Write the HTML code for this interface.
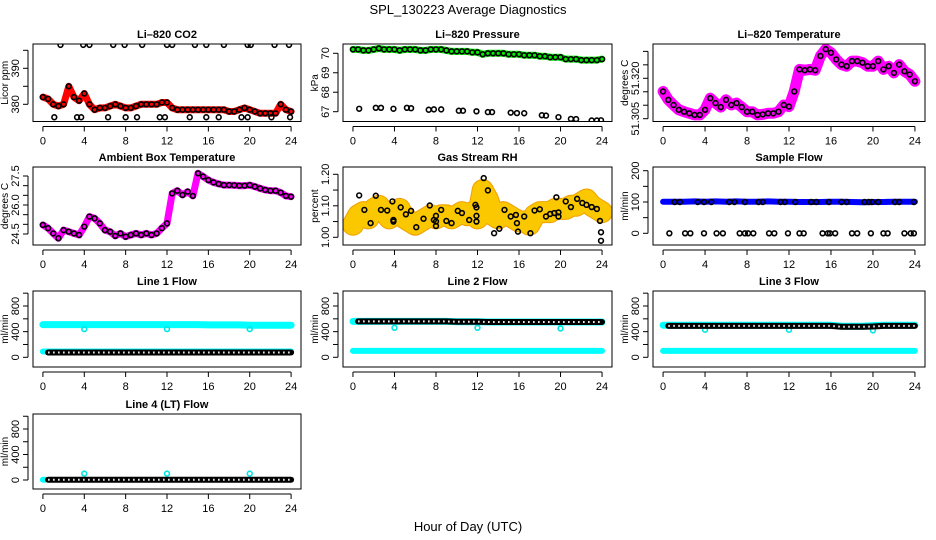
<!DOCTYPE html>
<html><head><meta charset="utf-8"><style>
html,body{margin:0;padding:0;background:#fff;}
svg{display:block;font-family:"Liberation Sans",sans-serif;}
</style></head><body>
<svg id="chart" width="936" height="540" viewBox="0 0 936 540" xmlns="http://www.w3.org/2000/svg">
<text x="468" y="14" text-anchor="middle" font-size="13">SPL_130223  Average Diagnostics</text>
<text x="468" y="531" text-anchor="middle" font-size="13">Hour of Day (UTC)</text>
</svg>
<script>
// ---------- data ----------
const halfHours = [0,0.5,1,1.5,2,2.5,3,3.5,4,4.5,5,5.5,6,6.5,7,7.5,8,8.5,9,9.5,10,10.5,11,11.5,12,12.5,13,13.5,14,14.5,15,15.5,16,16.5,17,17.5,18,18.5,19,19.5,20,20.5,21,21.5,22,22.5,23,23.5,24];
const hourly = [0,1,2,3,4,5,6,7,8,9,10,11,12,13,14,15,16,17,18,19,20,21,22,23,24];
const xTicks = [0,4,8,12,16,20,24];

const co2Red = [382,381.5,380,379.5,380,385,382,381,383,380,378.5,379,379,379.5,380,379.5,379,379,379.5,380,380,380,380,380.5,380.5,379,378.5,378.5,378.5,378.5,378.5,378.5,378.5,378.5,378.5,378.5,378,378,378.5,379,378.5,378,377.5,377.5,377.5,377.5,380,378.5,378];
const co2HighHours = [1.7,3.9,4.5,6.8,7.9,9.6,12,12.5,14.7,15.8,17.5,19.8,20.1,22.4,23.8];
const co2LowHours = [1.1,3.3,3.7,6.3,8,9.1,11.3,11.8,14.2,15.8,17,19.2,19.8,22.1,23.9];

const presGreen = [70.2,70.2,70.15,70.15,70.2,70.25,70.2,70.2,70.2,70.15,70.2,70.2,70.2,70.15,70.15,70.2,70.2,70.2,70.15,70.1,70.1,70.1,70.1,70.05,70.05,69.95,70.0,70.0,70.0,70.0,69.95,69.95,69.95,69.9,69.9,69.9,69.85,69.85,69.8,69.8,69.8,69.7,69.7,69.7,69.65,69.65,69.65,69.65,69.7];
const presLowHours = [0.6,2.2,2.7,3.9,5.2,5.6,7.3,7.8,8.5,10.2,10.6,11.9,13,13.4,15.2,15.8,16.5,18.2,18.6,19.8,21,21.5,23,23.5,23.9];
const presLowVals = [67.15,67.2,67.2,67.15,67.2,67.18,67.1,67.12,67.12,67.05,67.05,67.02,66.98,66.98,66.95,66.93,66.92,66.82,66.8,66.72,66.63,66.62,66.55,66.55,66.56];

const tempMag = [51.3151,51.312,51.3101,51.3083,51.3076,51.307,51.3064,51.3064,51.3083,51.3126,51.3108,51.3093,51.312,51.3101,51.3108,51.3093,51.3076,51.3076,51.3064,51.3066,51.307,51.307,51.3076,51.3101,51.3095,51.3151,51.3233,51.323,51.3233,51.323,51.3283,51.3308,51.3295,51.327,51.3251,51.3245,51.3264,51.3264,51.3258,51.3245,51.3245,51.3264,51.3233,51.3245,51.322,51.3251,51.3226,51.3214,51.3189];

const ambMag = [24.97,24.8,24.53,24.28,24.7,24.62,24.53,24.45,24.88,25.4,25.31,25.05,24.7,24.62,24.4,24.53,24.36,24.45,24.53,24.45,24.53,24.45,24.53,24.8,25.05,26.6,26.74,26.52,26.69,26.47,27.64,27.47,27.29,27.17,27.09,27.03,27.03,27.02,27.0,27.0,27.03,26.95,26.86,26.78,26.74,26.74,26.64,26.47,26.43];

const rhBand = [1.04,1.07,1.08,1.06,1.09,1.10,1.08,1.06,1.08,1.09,1.06,1.05,1.04,1.05,1.06,1.07,1.06,1.07,1.07,1.06,1.07,1.08,1.07,1.08,1.06,1.15,1.12,1.07,1.06,1.08,1.07,1.06,1.05,1.05,1.04,1.07,1.08,1.08,1.08,1.09,1.09,1.09,1.10,1.10,1.11,1.12,1.10,1.09,1.08];
const rhBlackHours = [0.6,1.1,1.7,2.2,2.7,3.3,3.8,3.9,3.9,4.6,5.1,5.6,6.1,6.8,7.4,7.8,8.0,8.0,8.0,8.5,9.0,9.5,10.1,10.5,11.2,11.8,11.9,11.9,11.9,12.6,13.0,13.6,14.1,14.6,15.2,15.7,15.8,15.9,16.5,17.1,17.5,18.0,18.6,19.0,19.4,19.6,19.8,19.8,20.5,21.0,21.6,22.1,22.5,23.0,23.5,23.8,23.9,23.9];
const rhBlackVals = [1.133,1.087,1.045,1.132,1.087,1.085,1.114,1.055,1.05,1.095,1.073,1.084,1.032,1.059,1.101,1.055,1.05,1.036,1.068,1.087,1.052,1.045,1.084,1.077,1.055,1.103,1.095,1.068,1.05,1.188,1.149,1.013,1.027,1.087,1.066,1.071,1.045,1.018,1.066,1.013,1.085,1.089,1.066,1.074,1.077,1.127,1.079,1.066,1.114,1.096,1.122,1.109,1.103,1.096,1.09,1.052,1.016,0.989];

const sampleBlue = [101,101,101,102,101,102,101,102,101,101,102,101,101,100,100,100,101,101,100,99,100,100,101,101,101];
const sampleZeroHours = [0.6,2.1,2.6,3.9,5.1,5.7,7.3,7.8,8.1,8.6,10.1,10.6,11.9,13.0,13.4,15.2,15.7,15.9,16.4,18.0,18.5,19.8,21.0,21.4,23.0,23.6,23.9];
const sampleHundredHours = [1.1,1.6,3.3,3.9,4.6,6.3,6.8,7.8,9.1,9.5,11.2,11.6,12.6,14.1,14.6,15.8,17.0,17.5,19.2,19.6,19.9,20.5,22.1,22.5,23.9];

const line1Black = [75,75,75,75,75,75,75,75,75,75,75,75,75,75,75,75,75,75,75,75,75,75,75,75,75];
const line1CyanHi = [510,510,510,510,510,510,510,510,510,510,510,510,510,510,510,510,505,505,505,505,500,500,500,500,500];
const line1CyanLo = [90,90,90,90,90,90,90,90,90,90,90,90,90,90,90,90,90,90,90,90,90,90,90,90,90];
const line1DipHours = [4,12,20];
const line1DipVals = [440,440,440];

const line2Black = [560,560,560,560,560,560,560,560,560,560,555,555,555,550,550,550,550,550,550,550,550,550,550,550,550];
const line2CyanHi = [560,560,560,560,560,560,560,560,560,560,555,555,555,550,550,550,550,550,550,550,550,550,550,550,550];
const line2CyanLo = [100,100,100,100,100,100,100,100,100,100,100,100,100,100,100,100,100,100,100,100,100,100,100,100,100];
const line2DipHours = [4,12,20];
const line2DipVals = [460,460,450];

const line3Black = [490,490,490,490,490,490,490,490,490,490,490,490,490,490,490,490,490,475,475,475,480,490,490,490,490];
const line3CyanHi = [500,500,500,500,500,500,500,500,500,500,500,500,500,500,500,500,500,485,485,485,495,500,500,500,500];
const line3CyanLo = [100,100,100,100,100,100,100,100,100,100,100,100,100,100,100,100,100,100,100,100,100,100,100,100,100];
const line3DipHours = [4,12,20];
const line3DipVals = [430,430,420];

const line4Black = [5,5,5,5,5,5,5,5,5,5,5,5,5,5,5,5,5,5,5,5,5,5,5,5,5];
const line4CyanHours = [0,0.2];
const line4CyanVals = [5,5];
const line4DipHours = [4,12,20];
const line4DipVals = [100,100,100];

// ---------- helpers ----------
const NS = "http://www.w3.org/2000/svg";
const svg = document.getElementById('chart');
function mk(tag, attrs, parent) {
  const el = document.createElementNS(NS, tag);
  for (const k in attrs) el.setAttribute(k, attrs[k]);
  (parent || svg).appendChild(el);
  return el;
}
function panel(name, title, box, yMap, yTicks, yLabels, yTitle) {
  const g = mk('g', {});
  
  
  const [L, T, R, B] = box;
  const W = R - L;
  const x = h => L + W * (0.037 + h / 24 * 0.926);
  const [v1, p1, v2, p2] = yMap;
  const y = v => p1 + (v - v1) * (p2 - p1) / (v2 - v1);
  const t = mk('text', {x: (L + R) / 2, y: T - 6, 'text-anchor': 'middle', 'font-size': 11, 'font-weight': 'bold'}, g);
  t.textContent = title;
  
  
  const clip = mk('clipPath', {id: 'clip-' + name}, g);
  mk('rect', {x: L, y: T, width: W, height: B - T}, clip);
  const plot = mk('g', {'clip-path': 'url(#clip-' + name + ')'}, g);
  
  
  const frame = mk('rect', {x: L, y: T, width: W, height: B - T, fill: 'none', stroke: '#000', 'stroke-width': 1}, g);
  
  
  const xa = mk('g', {}, g);
  
  
  mk('line', {x1: x(0), x2: x(24), y1: B + 5, y2: B + 5, stroke: '#000'}, xa);
  xTicks.forEach(h => {
    mk('line', {x1: x(h), x2: x(h), y1: B + 5, y2: B + 10, stroke: '#000'}, xa);
    const lb = mk('text', {x: x(h), y: B + 23, 'text-anchor': 'middle', 'font-size': 11}, xa);
    lb.textContent = h;
    
    
  });
  const ya = mk('g', {}, g);
  
  
  const ax = L - 5;
  mk('line', {x1: ax, x2: ax, y1: y(yTicks[0]), y2: y(yTicks[yTicks.length - 1]), stroke: '#000'}, ya);
  yTicks.forEach((v, i) => {
    mk('line', {x1: ax - 5, x2: ax, y1: y(v), y2: y(v), stroke: '#000'}, ya);
    if (yLabels[i]) {
      const lb = mk('text', {x: ax - 9, y: y(v), 'text-anchor': 'middle', 'font-size': 11, transform: 'rotate(-90 ' + (ax - 9) + ' ' + y(v) + ')'}, ya);
      lb.textContent = yLabels[i];
      
      
    }
  });
  const yt = mk('text', {x: L - 25, y: (T + B) / 2, 'text-anchor': 'middle', 'font-size': 10, transform: 'rotate(-90 ' + (L - 25) + ' ' + ((T + B) / 2) + ')'}, g);
  yt.textContent = yTitle;
  
  
  return {plot, x, y};
}
function band(p, hs, vs, color, w, name) {
  const pts = hs.map((h, i) => p.x(h).toFixed(1) + ',' + p.y(vs[i]).toFixed(1)).join(' ');
  const pl = mk('polyline', {points: pts, fill: 'none', stroke: color, 'stroke-width': w, 'stroke-linejoin': 'round', 'stroke-linecap': 'round'}, p.plot);
  
  
  return pl;
}
function chain(p, hs, vs, name, from) {
  const h2 = hs.map(h => Math.max(h, from));
  band(p, h2, vs, '#000', 6, name);
  const pts = h2.map((h, i) => p.x(h).toFixed(1) + ',' + p.y(vs[i]).toFixed(1)).join(' ');
  mk('polyline', {points: pts, fill: 'none', stroke: '#fff', 'stroke-width': 2, 'stroke-dasharray': '1.5 3.5'}, p.plot);
}
function dots(p, hs, vs, color, name) {
  hs.forEach((h, i) => {
    const c = mk('circle', {cx: p.x(h), cy: p.y(vs[i]), r: 2.4, fill: 'none', stroke: color, 'stroke-width': 1.6}, p.plot);
    
    
  });
}

// ---------- panels ----------
let p;
p = panel('co2', 'Li\u2013820 CO2', [33, 44, 301, 121.5], [380, 104.3, 390, 68.3], [380, 385, 390, 395], ['380', '', '390', ''], 'Licor ppm');
band(p, halfHours, co2Red, '#ff0000', 7, 'co2-series');
dots(p, halfHours, co2Red, '#000', 'co2-point');
dots(p, co2HighHours, co2HighHours.map(() => 396.5), '#000', 'co2-high-point');
dots(p, co2LowHours, co2LowHours.map(() => 376.4), '#000', 'co2-low-point');

p = panel('pressure', 'Li\u2013820 Pressure', [343, 44, 612, 121.5], [70, 53.3, 67, 111.7], [67, 68, 69, 70], ['67', '68', '69', '70'], 'kPa');
band(p, halfHours, presGreen, '#00ee00', 7, 'pressure-series');
dots(p, halfHours, presGreen, '#000', 'pressure-point');
dots(p, presLowHours, presLowVals, '#000', 'pressure-low-point');

p = panel('li-temp', 'Li\u2013820 Temperature', [653, 44, 925, 121.5], [51.305, 118.7, 51.320, 78.3], [51.305, 51.310, 51.315, 51.320, 51.325, 51.330], ['51.305', '', '', '51.320', '', ''], 'degrees C');
band(p, halfHours, tempMag, '#ff00ff', 11, 'li-temp-series');
dots(p, halfHours, tempMag, '#000', 'li-temp-point');

p = panel('ambient', 'Ambient Box Temperature', [33, 167, 301, 245], [24.5, 234, 27.5, 176], [24.5, 25, 25.5, 26, 26.5, 27, 27.5], ['24.5', '', '', '26.0', '', '', '27.5'], 'degrees C');
band(p, halfHours, ambMag, '#ff00ff', 7, 'ambient-series');
dots(p, halfHours, ambMag, '#000', 'ambient-point');

p = panel('rh', 'Gas Stream RH', [343, 167, 612, 245], [1.00, 237.3, 1.20, 174.3], [1.00, 1.05, 1.10, 1.15, 1.20], ['1.00', '', '1.10', '', '1.20'], 'percent');
band(p, halfHours, rhBand, '#f0a000', 22, 'rh-series');
const rb = band(p, halfHours, rhBand, '#ffd800', 20, 'rh-series-texture');
rb.setAttribute('stroke-dasharray', '2 2');
rb.setAttribute('opacity', '0.7');
dots(p, rhBlackHours, rhBlackVals, '#000', 'rh-point');

p = panel('sample-flow', 'Sample Flow', [653, 167, 925, 245], [0, 233.3, 200, 170.7], [0, 50, 100, 150, 200], ['0', '', '100', '', '200'], 'ml/min');
band(p, hourly, sampleBlue, '#0000ff', 6, 'sample-flow-series');
dots(p, sampleZeroHours, sampleZeroHours.map(() => 0), '#000', 'sample-zero-point');
dots(p, sampleHundredHours, sampleHundredHours.map(() => 100), '#000', 'sample-100-point');

const flowTicks = [0, 200, 400, 600, 800, 1000];
const flowLabels = ['0', '', '400', '', '800', ''];
p = panel('line1', 'Line 1 Flow', [33, 291, 301, 367], [0, 357.3, 800, 306], flowTicks, flowLabels, 'ml/min');
band(p, hourly, line1CyanHi, '#00ffff', 7, 'line1-cyan-high');
band(p, hourly, line1CyanLo, '#00ffff', 6, 'line1-cyan-low');
dots(p, line1DipHours, line1DipVals, '#00e5e5', 'line1-dip');
chain(p, hourly, line1Black, 'line1-black', 0.5);

p = panel('line2', 'Line 2 Flow', [343, 291, 612, 367], [0, 357.3, 800, 306], flowTicks, flowLabels, 'ml/min');
band(p, hourly, line2CyanHi, '#00ffff', 7, 'line2-cyan-high');
band(p, hourly, line2CyanLo, '#00ffff', 6, 'line2-cyan-low');
dots(p, line2DipHours, line2DipVals, '#00e5e5', 'line2-dip');
chain(p, hourly, line2Black, 'line2-black', 0.5);

p = panel('line3', 'Line 3 Flow', [653, 291, 925, 367], [0, 357.3, 800, 306], flowTicks, flowLabels, 'ml/min');
band(p, hourly, line3CyanHi, '#00ffff', 7, 'line3-cyan-high');
band(p, hourly, line3CyanLo, '#00ffff', 6, 'line3-cyan-low');
dots(p, line3DipHours, line3DipVals, '#00e5e5', 'line3-dip');
chain(p, hourly, line3Black, 'line3-black', 0.5);

p = panel('line4', 'Line 4 (LT) Flow', [33, 414, 301, 489], [0, 480, 800, 429], flowTicks, flowLabels, 'ml/min');
band(p, line4CyanHours, line4CyanVals, '#00ffff', 6, 'line4-cyan');
dots(p, line4DipHours, line4DipVals, '#00e5e5', 'line4-dip');
chain(p, hourly, line4Black, 'line4-black', 0.5);
</script>
</body></html>
